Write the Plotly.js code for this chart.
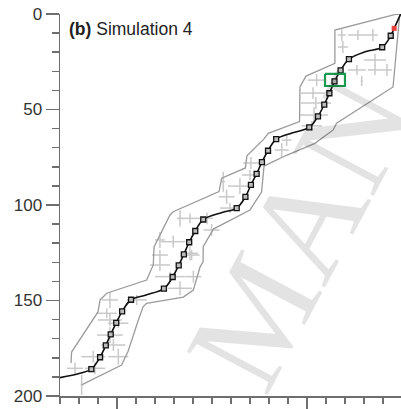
<!DOCTYPE html>
<html>
<head>
<meta charset="utf-8">
<script src="https://cdn.plot.ly/plotly-3.0.1.min.js"></script>
<style>html,body{margin:0;padding:0;background:#fff;}#chart{width:401px;height:409px;}</style>
</head>
<body>
<div id="chart"></div>
<script>
// Path (black line) points
var pathX = [-30, -19.5, -13.5, -8.9, -5.9, -3.3, -0.4, 2.7, 7.4, 15.3, 24.7, 29.3, 32.5, 35.2, 38.0, 41.2, 45.4, 55.3, 63.0, 67.6, 70.5, 73.5, 76.3, 79.5, 83.8, 92.1, 101.2, 105.8, 109.1, 111.8, 114.5, 117.7, 122.1, 131.1, 139.6, 144.1, 145.9, 149.5];
var pathY = [190.4, 188.1, 185.9, 179.7, 173.5, 167.7, 161.7, 155.7, 149.6, 147.1, 143.8, 137.7, 131.6, 125.8, 119.5, 113.6, 107.6, 103.9, 101.6, 95.7, 89.5, 83.7, 77.5, 71.6, 65.5, 62.3, 59.4, 53.6, 47.4, 41.5, 35.3, 29.5, 23.6, 19.6, 17.4, 11.4, 7.5, -0.4];

// Square markers along the path
var markX = [-13.5, -8.9, -5.9, -3.3, -0.4, 2.7, 7.4, 24.7, 29.3, 32.5, 35.2, 38.0, 41.2, 45.4, 63.0, 67.6, 70.5, 73.5, 76.3, 79.5, 83.8, 101.2, 105.8, 109.1, 111.8, 114.5, 117.7, 122.1, 139.6, 144.1];
var markY = [185.9, 179.7, 173.5, 167.7, 161.7, 155.7, 149.6, 143.8, 137.7, 131.6, 125.8, 119.5, 113.6, 107.6, 101.6, 95.7, 89.5, 83.7, 77.5, 71.6, 65.5, 59.4, 53.6, 47.4, 41.5, 35.3, 29.5, 23.6, 17.4, 11.4];

// Red marker (start point)
var redX = [145.9];
var redY = [7.5];

// Envelope: left side (bottom -> top) then right side (top -> bottom)
var envX = [-24.2, -23.9, -10.0, -8.9, -5.4, 15.6, 19.1, 19.5, 27.9, 29.6, 53.7, 55.1, 67.6, 68.4, 77.4, 79.6, 96.1, 96.3, 99.5, 114.7, 114.7, 148.9,
            145.3, 115.6, 113.8, 104.2, 88.9, 77.4, 76.1, 70.0, 50.7, 45.4, 45.3, 43.7, 40.2, 34.9, 15.6, 13.8, 11.6, 7.9, 5.9, 2.4, -18.6];
var envY = [182.7, 177.0, 156.0, 149.7, 146.2, 139.3, 131.4, 122.0, 105.2, 103.5, 93.0, 86.0, 80.6, 74.3, 65.4, 62.5, 56.3, 38.2, 32.5, 25.8, 8.4, -0.4,
            38.2, 57.2, 60.7, 67.7, 74.1, 79.6, 93.2, 102.6, 112.6, 121.8, 129.8, 132.5, 144.5, 148.2, 151.5, 153.2, 159.2, 169.6, 176.4, 183.8, 194.2];

// Grey crosses: centre and half-extents
var crossX  = [118.3, 126.8, 134.7, 118.9, 135.8, 135.8, 142.1, 126.3, 128.8, 105.1, 103.2, 104.7, 103.7, 102.6, 89.3, 86.7, 70.5, 70.0, 64.7, 57.7, 59.5, 47.4, 55.9, 33.2, 38.4, 49.8, 22.6, 29.6, 38.4, 22.6, 22.6, 27.9, 39.3, 40.2, 33.2, -3.7, 10.4, -3.7, -5.4, 0.7, -3.7, -1.9, -12.5, 0.7, -22.1, -11.6, -18.6];
var crossY  = [11.0, 11.0, 11.0, 17.3, 24.1, 29.3, 29.3, 29.3, 35.1, 34.6, 41.4, 46.6, 52.9, 58.6, 66.0, 71.2, 78.0, 84.3, 90.1, 95.7, 101.6, 107.0, 87.8, 107.0, 107.0, 113.1, 118.3, 119.2, 125.3, 126.2, 131.4, 137.5, 126.2, 137.5, 143.6, 149.7, 149.7, 160.2, 156.7, 161.9, 168.1, 173.3, 179.4, 179.4, 185.5, 185.5, 194.2];
var crossDx = [2.1, 5.3, 2.6, 2.6, 5.8, 3.7, 2.6, 4.7, 0.5, 4.7, 6.3, 7.9, 7.4, 5.3, 2.6, 3.7, 4.2, 4.2, 6.3, 4.2, 5.3, 3.2, 1.0, 1.0, 6.8, 4.2, 2.6, 6.3, 4.2, 4.2, 5.3, 7.9, 4.2, 4.2, 6.3, 4.2, 5.3, 6.3, 5.3, 5.3, 6.8, 6.3, 6.3, 5.3, 4.2, 5.3, 0.5];
var crossDy = [3.1, 2.6, 3.1, 3.1, 3.1, 2.6, 3.1, 2.6, 2.6, 3.1, 3.1, 3.1, 4.2, 2.6, 3.1, 3.7, 3.1, 2.6, 4.2, 3.7, 2.6, 3.1, 5.2, 4.2, 2.6, 3.1, 4.2, 3.1, 3.7, 2.6, 3.1, 2.6, 2.6, 3.1, 3.7, 4.2, 2.6, 3.1, 2.6, 2.6, 4.2, 3.1, 3.1, 4.2, 3.1, 3.1, 5.2];

// Green highlight box
var boxX = [109.5, 120.0];
var boxY = [31.4, 37.7];

var titleText = '<b>(b)</b> Simulation 4';
var watermarkText = 'MAN';

var traces = [
  {x: crossX, y: crossY, mode: 'markers', type: 'scatter', marker: {size: 1, color: 'rgba(0,0,0,0)'},
   error_x: {type: 'data', array: crossDx, visible: true, color: '#c9c9c9', thickness: 1.5, width: 0},
   error_y: {type: 'data', array: crossDy, visible: true, color: '#c9c9c9', thickness: 1.5, width: 0},
   hoverinfo: 'skip'},
  {x: envX, y: envY, mode: 'lines', type: 'scatter', line: {color: '#9b9b9b', width: 1.3}, hoverinfo: 'skip'},
  {x: pathX, y: pathY, mode: 'lines', type: 'scatter', line: {color: '#111', width: 1.6, shape: 'spline', smoothing: 1}, hoverinfo: 'skip'},
  {x: markX, y: markY, mode: 'markers', type: 'scatter',
   marker: {symbol: 'square', size: 5, color: '#bdbdbd', line: {color: '#111', width: 1.3}}, hoverinfo: 'skip'},
  {x: redX, y: redY, mode: 'markers', type: 'scatter',
   marker: {symbol: 'square', size: 5, color: '#e8413c', line: {width: 0}}, hoverinfo: 'skip'},
  {x: [boxX[0], boxX[1], boxX[1], boxX[0], boxX[0]], y: [boxY[0], boxY[0], boxY[1], boxY[1], boxY[0]],
   mode: 'lines', type: 'scatter', line: {color: '#1a9a4f', width: 2.2}, hoverinfo: 'skip'}
];

var axisColor = '#6e6e6e';
var layout = {
  width: 401, height: 409,
  margin: {l: 60, r: 0, t: 14, b: 13, pad: 0},
  paper_bgcolor: '#fff', plot_bgcolor: '#fff',
  showlegend: false,
  font: {family: 'Liberation Sans, Arial, sans-serif', color: '#333'},
  xaxis: {
    range: [-30, 149.5], showgrid: false, zeroline: false,
    showline: true, linecolor: axisColor, linewidth: 1.5,
    ticks: 'outside', tick0: 0, dtick: 100, ticklen: 13, tickwidth: 1.5, tickcolor: axisColor,
    showticklabels: false,
    minor: {dtick: 10, tick0: 0, ticks: 'outside', ticklen: 6, tickwidth: 1.5, tickcolor: axisColor},
    automargin: false
  },
  yaxis: {
    range: [200, 0], showgrid: false, zeroline: false,
    showline: true, linecolor: axisColor, linewidth: 1.5,
    ticks: 'outside', tick0: 0, dtick: 50, ticklen: 13, tickwidth: 1.5, tickcolor: axisColor,
    tickfont: {size: 17, color: '#333'},
    minor: {dtick: 10, tick0: 0, ticks: 'outside', ticklen: 7, tickwidth: 1.5, tickcolor: axisColor},
    automargin: false
  },
  annotations: [
    {text: watermarkText, xref: 'paper', yref: 'paper', x: 0.704, y: 0.429, xanchor: 'center', yanchor: 'middle',
     showarrow: false, textangle: -62,
     font: {family: 'Liberation Serif, Times New Roman, serif', size: 140, color: 'rgba(0,0,0,0.11)'}},
    {text: titleText, xref: 'paper', yref: 'paper', x: 0.0196, y: 0.961, xanchor: 'left', yanchor: 'middle',
     showarrow: false, font: {size: 17.5, color: '#222', family: 'Liberation Sans, Arial, sans-serif'}}
  ]
};

Plotly.newPlot('chart', traces, layout, {displayModeBar: false, staticPlot: true});
</script>
</body>
</html>
